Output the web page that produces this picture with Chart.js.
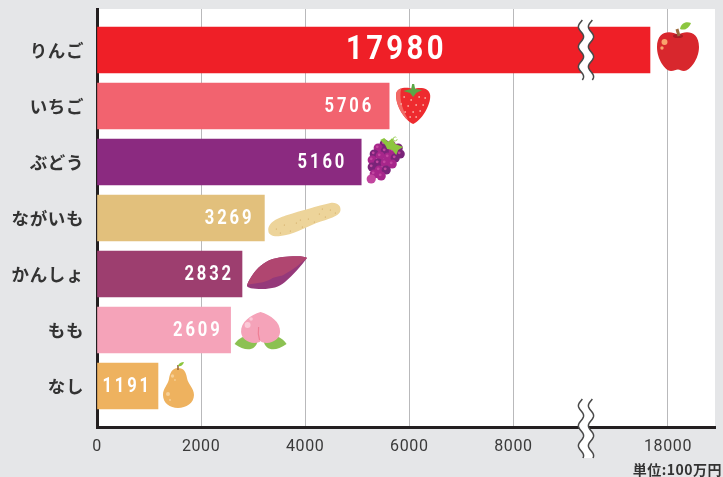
<!DOCTYPE html>
<html><head><meta charset="utf-8">
<style>html,body{margin:0;padding:0;background:#e5e6e8;}#wrap{width:723px;height:477px;}</style>
<script src="https://cdn.jsdelivr.net/npm/chart.js@4"></script>
</head><body><div id="wrap"><canvas id="c" width="723" height="477"></canvas></div>
<script>
const categories = ['りんご','いちご','ぶどう','ながいも','かんしょ','もも','なし'];
const values = [17980,5706,5160,3269,2832,2609,1191];
const barColors = ['#ef1f27','#f2636f','#8b2a80','#e2c07c','#9d3e6f','#f5a3b9','#eeb25f'];
const tickValues = [0,2000,4000,6000,8000,18000];
const unitLabel = '単位:100万円';

const FONT_NUM = 'Roboto, sans-serif';
const FONT_JP = '"Noto Sans CJK JP", sans-serif';
const AXIS_MAX = 11873, BREAK_VALUE = 9300;
const TICK_TOP_UNITS = 10970, DATA_TOP_UNITS = 10624, DATA_K = 0.9837;

class BrokenLinearScale extends Chart.LinearScale {
  static id = 'brokenLinear';
  static defaults = {};
  getPixelForValue(v) {
    const u = v <= BREAK_VALUE ? v * DATA_K : DATA_TOP_UNITS - (17980 - v) * DATA_K;
    return super.getPixelForValue(u);
  }
  getPixelForTick(i) {
    const v = this.ticks[i].value;
    const u = v <= BREAK_VALUE ? v : TICK_TOP_UNITS - (18000 - v);
    return super.getPixelForValue(u);
  }
}
class PaddedCategoryScale extends Chart.CategoryScale {
  static id = 'paddedCategory';
  static defaults = {};
  buildTicks() {
    const ticks = super.buildTicks();
    const extra = 0.232;
    this._startValue -= extra;
    this._valueRange += extra * 2;
    return ticks;
  }
}
Chart.register(BrokenLinearScale, PaddedCategoryScale);

function blob(ctx, fill, fn) { ctx.fillStyle = fill; ctx.beginPath(); fn(ctx); ctx.closePath(); ctx.fill(); }
function dot(ctx, x, y, r, fill) { ctx.fillStyle = fill; ctx.beginPath(); ctx.arc(x, y, r, 0, Math.PI * 2); ctx.fill(); }

const icons = [
  function apple(c) {
    blob(c, '#d8272d', k => { k.moveTo(0,-16); k.bezierCurveTo(8,-21,21,-20,21,-4); k.bezierCurveTo(21,8,12,20,6,20); k.bezierCurveTo(3,20,2,18.5,0,18.5); k.bezierCurveTo(-2,18.5,-4,20,-7,20); k.bezierCurveTo(-13,20,-21,8,-21,-4); k.bezierCurveTo(-21,-20,-8,-21,0,-16); });
    blob(c, '#a81c24', k => k.ellipse(0,-15,5,2,0,0,Math.PI*2));
    c.strokeStyle = '#9b6b3d'; c.lineWidth = 3; c.beginPath(); c.moveTo(1,-15); c.lineTo(-1,-22); c.stroke();
    blob(c, '#8cc63f', k => { k.moveTo(2,-22); k.bezierCurveTo(3,-28,8,-30,13,-28); k.bezierCurveTo(11,-23,7,-20,2,-22); });
    dot(c,-13.5,-9,3,'#f9a26c'); dot(c,-16,-3,1.7,'#f9a26c');
  },
  function strawberry(c) {
    blob(c, '#ee2b2f', k => { k.moveTo(-17,-9); k.bezierCurveTo(-16,-16,-6,-16,0,-14); k.bezierCurveTo(6,-16,16,-16,17,-8); k.bezierCurveTo(18,2,8,18,0,21); k.bezierCurveTo(-8,18,-18,2,-17,-9); });
    blob(c, '#f26a66', k => { k.moveTo(-17,-9); k.bezierCurveTo(-16.5,-13,-14,-14,-12,-14.5); k.bezierCurveTo(-14,-6,-12,4,-5,17); k.bezierCurveTo(-11,13,-18,1,-17,-9); });
    blob(c, '#5aa846', k => { k.moveTo(-1,-19); k.lineTo(1,-19); k.lineTo(2,-14); k.lineTo(9,-13); k.lineTo(3,-10); k.lineTo(0,-6); k.lineTo(-3,-10); k.lineTo(-10,-12); k.lineTo(-2,-14); });
    for (const [x,y] of [[-9,-6],[-2,-3],[6,-6],[12,-5],[-12,1],[-5,3],[3,2],[10,2],[-8,9],[0,9],[7,8],[-3,14],[3,14]]) dot(c,x,y,0.9,'#f7a9a0');
  },
  function grapes(c) {
    const R = '#a7268b', D = '#7a2479', L = '#c2469f';
    for (const [x,y,f] of [[-2,-16,D],[5,-15,R],[12,-12,D],[-8,-12,R],[-1,-9,D],[7,-9,R],[14,-6,D],[-12,-6,D],[-6,-4,R],[2,-3,R],[9,-2,D],[-14,0,R],[-8,3,D],[-1,3,R],[6,4,R],[-14,7,D],[-7,10,R],[0,10,D],[-12,14,R],[-5,16,R],[-15,19,L]]) {
      dot(c,x,y,4.6,f); dot(c,x-1,y-1.2,1.4,L);
    }
    blob(c,'#8cc63f',k=>{k.moveTo(-6,-20);k.lineTo(-2,-22);k.lineTo(2,-18);k.lineTo(6,-22);k.lineTo(9,-16);k.lineTo(17,-13);k.lineTo(12,-10);k.lineTo(10,-5);k.lineTo(6,-10);k.lineTo(1,-11);k.lineTo(-1,-15);});
    c.strokeStyle='#8cc63f'; c.lineWidth=0.8; c.beginPath(); c.arc(9,-21,2,0,Math.PI*1.7); c.stroke();
  },
  function yam(c) {
    blob(c,'#edd49a',k=>{k.moveTo(-36,11);k.bezierCurveTo(-37,2,-26,-2,-17,-5);k.bezierCurveTo(-4,-9,13,-14,26,-17);k.bezierCurveTo(33,-18,37,-14,36,-9);k.bezierCurveTo(35,-4,24,-1,12,3);k.bezierCurveTo(0,8,-12,15,-24,16);k.bezierCurveTo(-31,17,-36,15,-36,11);});
    for (const [x,y] of [[-28,9],[-20,5],[-14,11],[-8,3],[-2,7],[4,-1],[10,2],[15,-6],[21,-3],[26,-10],[31,-7],[-24,13],[-4,0],[18,-11]]) dot(c,x,y,0.6,'#cfa860');
  },
  function sweetPotato(c) {
    blob(c,'#95397a',k=>{k.moveTo(30,-14);k.bezierCurveTo(24,-6,16,3,8,10);k.bezierCurveTo(2,15,-5,17,-15,17);k.bezierCurveTo(-24,17,-31,16,-30,13);k.bezierCurveTo(-27,5,-20,-4,-14,-8);k.bezierCurveTo(-6,-14,4,-15,12,-15.5);k.bezierCurveTo(20,-16,28,-16,30,-14);});
    blob(c,'#b04670',k=>{k.moveTo(30,-14);k.bezierCurveTo(24,-9,16,-2,8,2);k.bezierCurveTo(4,5,-2,4,-6,7);k.bezierCurveTo(-12,11,-22,11,-30,13);k.bezierCurveTo(-27,5,-20,-4,-14,-8);k.bezierCurveTo(-6,-14,4,-15,12,-15.5);k.bezierCurveTo(20,-16,28,-16,30,-14);});
  },
  function peach(c) {
    blob(c,'#8cc152',k=>{k.moveTo(-26,14);k.bezierCurveTo(-20,5,-12,4,-3,11);k.bezierCurveTo(-5,21,-15,22,-26,14);});
    blob(c,'#8cc152',k=>{k.moveTo(26,14);k.bezierCurveTo(20,5,12,4,3,11);k.bezierCurveTo(5,21,15,22,26,14);});
    blob(c,'#f5a3b9',k=>{k.moveTo(0,-18);k.bezierCurveTo(10,-15,20,-8,19.5,2);k.bezierCurveTo(19,10,10,15,1,12);k.lineTo(0,11);k.lineTo(-1,12);k.bezierCurveTo(-10,15,-19,10,-19.5,2);k.bezierCurveTo(-20,-8,-10,-15,0,-18);});
    c.strokeStyle='#ee7f95'; c.lineWidth=1.2; c.beginPath(); c.moveTo(-2,-3); c.quadraticCurveTo(-3,4,-1,10); c.stroke();
    dot(c,-13,-5,3,'#fbc9d7'); dot(c,-9.5,-11,1.8,'#fbc9d7');
  },
  function pear(c) {
    blob(c,'#eeb25f',k=>{k.moveTo(0,-18);k.bezierCurveTo(6,-18,8,-14,9,-8);k.bezierCurveTo(10,-2,16,2,16,9);k.bezierCurveTo(16,17,8,22,0,22);k.bezierCurveTo(-8,22,-15,17,-15,9);k.bezierCurveTo(-15,2,-10,-1,-9,-7);k.bezierCurveTo(-8,-13,-6,-18,0,-18);});
    c.strokeStyle='#9b6b3d'; c.lineWidth=1.6; c.beginPath(); c.moveTo(0,-16); c.lineTo(0,-21); c.stroke();
    blob(c,'#8cc63f',k=>{k.moveTo(0,-20);k.bezierCurveTo(1,-23,3,-24,6,-24);k.bezierCurveTo(5,-21,3,-19,0,-20);});
    dot(c,-5.5,-10,1.7,'#f6cf95'); dot(c,-3,-6,0.9,'#f6cf95'); dot(c,-10,8,2,'#f6cf95'); dot(c,-8,14,1,'#f6cf95');
  }
];
const iconDx = [28,24,25,40,35,30,20];
const iconDy = [1,-3,-2,2,-2,0,0];
const labelInset = [0,17,16,12,10,10,8];

function waveX(x, y, y0) { return x + 2.6 * Math.sin((y - y0) * Math.PI / 10 + 2.6); }
function breakMark(ctx, y0, y1) {
  const xs = [581, 591];
  ctx.fillStyle = '#fff'; ctx.beginPath();
  for (let y = y0; y <= y1; y++) ctx.lineTo(waveX(xs[0], y, y0), y);
  for (let y = y1; y >= y0; y--) ctx.lineTo(waveX(xs[1], y, y0), y);
  ctx.closePath(); ctx.fill();
  ctx.strokeStyle = '#484848'; ctx.lineWidth = 1.5;
  for (const x of xs) {
    ctx.beginPath();
    for (let y = y0; y <= y1; y++) ctx.lineTo(waveX(x, y, y0), y);
    ctx.stroke();
  }
}
function valueText(ctx, text, xRight, y, size, spacing, sx) {
  ctx.save();
  ctx.translate(xRight, y); ctx.scale(sx, 1);
  ctx.font = '700 ' + size + 'px ' + FONT_NUM; ctx.letterSpacing = spacing + 'px'; ctx.textAlign = 'right';
  ctx.fillText(text, 0, 0);
  ctx.restore();
}

const decorations = {
  id: 'decorations',
  beforeDraw(chart) {
    const { ctx, chartArea: a } = chart;
    ctx.save();
    ctx.fillStyle = '#e5e6e8'; ctx.fillRect(0, 0, chart.width, chart.height);
    ctx.fillStyle = '#fff'; ctx.fillRect(a.left, a.top, a.right - a.left, a.bottom - a.top);
    ctx.restore();
    ctx.letterSpacing = '0.6px';
  },
  afterDraw(chart) {
    const { ctx } = chart;
    const bars = chart.getDatasetMeta(0).data;
    ctx.save();
    bars.forEach((b, i) => {
      ctx.save(); ctx.translate(b.x + iconDx[i], b.y + iconDy[i]); icons[i](ctx); ctx.restore();
    });
    breakMark(ctx, 20, 80);
    breakMark(ctx, 399, 458);
    ctx.fillStyle = '#fff'; ctx.textBaseline = 'middle';
    bars.forEach((b, i) => {
      if (i === 0) valueText(ctx, String(values[i]), 447, b.y + 1, 34, 4, 0.86);
      else valueText(ctx, String(values[i]), b.x - labelInset[i] + 2, b.y + 1, 19.5, 3.4, 0.85);
    });
    ctx.letterSpacing = '0.5px';
    ctx.fillStyle = '#333'; ctx.font = '700 14px ' + FONT_JP; ctx.textAlign = 'right';
    ctx.fillText(unitLabel, 722, 470);
    ctx.restore();
  }
};

new Chart(document.getElementById('c'), {
  type: 'bar',
  data: { labels: categories, datasets: [{ data: values, backgroundColor: barColors, barThickness: 46 }] },
  options: {
    indexAxis: 'y', responsive: false, animation: false,
    layout: { padding: { left: 0, right: 8, top: 9, bottom: 0 } },
    plugins: { legend: { display: false }, tooltip: { enabled: false } },
    scales: {
      x: {
        type: 'brokenLinear', min: 0, max: AXIS_MAX,
        afterBuildTicks: s => { s.ticks = tickValues.map(value => ({ value })); },
        afterFit: s => { s.height = 50; s.paddingLeft = 0; s.paddingRight = 0; },
        border: { display: true, color: '#231f20', width: 3 },
        grid: { color: '#b9b9bb', lineWidth: 1, drawTicks: false },
        ticks: { autoSkip: false, maxRotation: 0, padding: 10, color: '#3a3a3a', font: { family: FONT_NUM, size: 16 }, callback: v => String(v) }
      },
      y: {
        type: 'paddedCategory',
        afterFit: s => { s.width = 97; s.paddingTop = 0; s.paddingBottom = 0; },
        border: { display: true, color: '#231f20', width: 3 },
        grid: { display: false, drawTicks: false },
        ticks: { padding: 13, color: '#333', font: { family: FONT_JP, size: 17.5, weight: '700' } }
      }
    }
  },
  plugins: [decorations]
});
</script></body></html>
